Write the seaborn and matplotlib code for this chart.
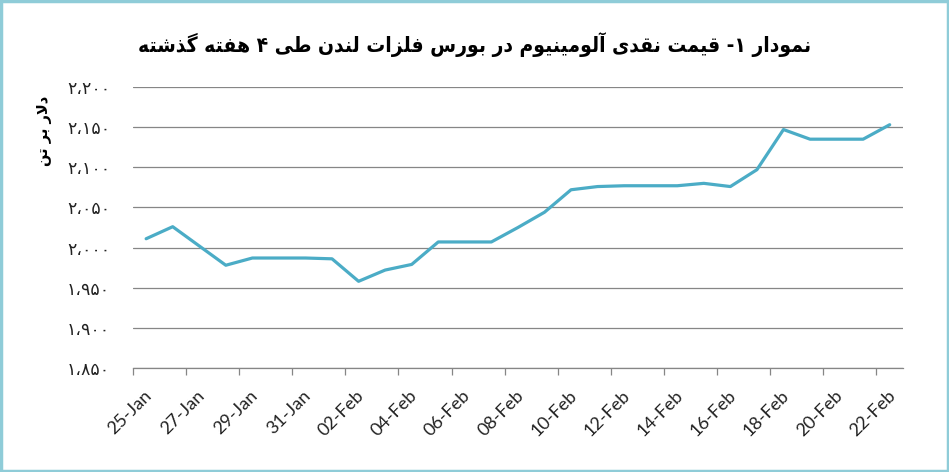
import pandas as pd
import matplotlib
matplotlib.use("Agg")
import matplotlib.pyplot as plt
import matplotlib.dates as mdates
import matplotlib.transforms as mtransforms
import seaborn as sns

# LME cash aluminium price (USD per tonne), weekends carry Friday's price
dates = ["2021-01-25", "2021-01-26", "2021-01-27", "2021-01-28", "2021-01-29",
         "2021-01-30", "2021-01-31", "2021-02-01", "2021-02-02", "2021-02-03",
         "2021-02-04", "2021-02-05", "2021-02-06", "2021-02-07", "2021-02-08",
         "2021-02-09", "2021-02-10", "2021-02-11", "2021-02-12", "2021-02-13",
         "2021-02-14", "2021-02-15", "2021-02-16", "2021-02-17", "2021-02-18",
         "2021-02-19", "2021-02-20", "2021-02-21", "2021-02-22"]
prices = [2011, 2026, 2002, 1978, 1987,
          1987, 1987, 1986, 1958, 1972,
          1979, 2007, 2007, 2007, 2025,
          2044, 2072, 2076, 2077, 2077,
          2077, 2080, 2076, 2097, 2147,
          2135, 2135, 2135, 2153]
y_ticks = [1850, 1900, 1950, 2000, 2050, 2100, 2150, 2200]

title_text = "نمودار ۱- قیمت نقدی آلومینیوم در بورس فلزات لندن طی ۴ هفته گذشته"
ylabel_text = "دلار بر تن"

LINE_COLOR = "#4BACC6"
GRID_COLOR = "#868686"
FRAME_COLOR = "#8FCCD8"

# matplotlib does no arabic shaping, so pick presentation forms by hand
# (isolated, final, initial, medial)
FORMS = {
    "ا": (0xFE8D, 0xFE8E, None, None),
    "آ": (0xFE81, 0xFE82, None, None),
    "ب": (0xFE8F, 0xFE90, 0xFE91, 0xFE92),
    "ت": (0xFE95, 0xFE96, 0xFE97, 0xFE98),
    "د": (0xFEA9, 0xFEAA, None, None),
    "ذ": (0xFEAB, 0xFEAC, None, None),
    "ر": (0xFEAD, 0xFEAE, None, None),
    "ز": (0xFEAF, 0xFEB0, None, None),
    "س": (0xFEB1, 0xFEB2, 0xFEB3, 0xFEB4),
    "ش": (0xFEB5, 0xFEB6, 0xFEB7, 0xFEB8),
    "ط": (0xFEC1, 0xFEC2, 0xFEC3, 0xFEC4),
    "ف": (0xFED1, 0xFED2, 0xFED3, 0xFED4),
    "ق": (0xFED5, 0xFED6, 0xFED7, 0xFED8),
    "ل": (0xFEDD, 0xFEDE, 0xFEDF, 0xFEE0),
    "م": (0xFEE1, 0xFEE2, 0xFEE3, 0xFEE4),
    "ن": (0xFEE5, 0xFEE6, 0xFEE7, 0xFEE8),
    "ه": (0xFEE9, 0xFEEA, 0xFEEB, 0xFEEC),
    "و": (0xFEED, 0xFEEE, None, None),
    "ی": (0xFEEF, 0xFEF0, 0xFEF3, 0xFEF4),
    "گ": (0xFB92, 0xFB93, 0xFB94, 0xFB95),
    "\uFEFB": (0xFEFB, 0xFEFC, None, None),  # lam-alef
}


def shape_rtl(text):
    text = text.replace("لا", "\uFEFB")
    out = []
    for i, ch in enumerate(text):
        if ch not in FORMS:
            out.append(ch)
            continue
        prev = text[i - 1] if i > 0 else ""
        nxt = text[i + 1] if i < len(text) - 1 else ""
        join_prev = prev in FORMS and FORMS[prev][2] is not None
        join_next = nxt in FORMS and FORMS[ch][2] is not None
        if join_prev and join_next:
            k = 3
        elif join_prev:
            k = 1
        elif join_next:
            k = 2
        else:
            k = 0
        out.append(chr(FORMS[ch][k]))
    return "".join(reversed(out))


def persian_number(v):
    return f"{v:,}".translate(str.maketrans("0123456789,", "۰۱۲۳۴۵۶۷۸۹،"))


df = pd.DataFrame({"date": pd.to_datetime(dates), "price": prices})

sns.set_theme(style="white")
fig = plt.figure(figsize=(9.49, 4.72), dpi=100)
ax = fig.add_axes([0.140, 0.2203, 0.8115, 0.5954])

sns.lineplot(data=df, x="date", y="price", ax=ax, color=LINE_COLOR,
             linewidth=2.3, zorder=3)

ax.set_ylim(1850, 2200)
ax.set_yticks(y_ticks)
ax.set_yticklabels([persian_number(v) for v in y_ticks], family="DejaVu Sans",
                   fontsize=12.5, color="#222222")
ax.tick_params(axis="y", length=0, pad=16.5)
ax.yaxis.grid(True, color=GRID_COLOR, linewidth=0.9)

start = pd.Timestamp(dates[0])
end = pd.Timestamp(dates[-1])
half = pd.Timedelta(hours=12)
ax.set_xlim(start - half, end + half)
label_days = pd.date_range(start, end, freq="2D")
ax.set_xticks(label_days)
ax.set_xticks(label_days - half, minor=True)
ax.xaxis.set_major_formatter(mdates.DateFormatter("%d-%b"))
ax.tick_params(axis="x", which="major", length=0, pad=18)
ax.tick_params(axis="x", which="minor", bottom=True, length=5, width=0.9,
               color=GRID_COLOR, direction="out")
shift = mtransforms.ScaledTranslation(3 / 100, 0, fig.dpi_scale_trans)
for lbl in ax.get_xticklabels():
    lbl.set_rotation(45)
    lbl.set_ha("right")
    lbl.set_va("center")
    lbl.set_rotation_mode("anchor")
    lbl.set_family("Lato")
    lbl.set_fontsize(13)
    lbl.set_color("#222222")
    lbl.set_transform(lbl.get_transform() + shift)

for side in ["left", "right", "top"]:
    ax.spines[side].set_visible(False)
ax.spines["bottom"].set_color(GRID_COLOR)
ax.spines["bottom"].set_linewidth(0.9)
ax.set_xlabel("")
ax.set_ylabel("")

fig.text(0.5, 0.905, shape_rtl(title_text), ha="center", va="center",
         family="DejaVu Sans", fontweight="bold", fontstretch="condensed",
         fontsize=15, color="black")
fig.text(0.047, 0.723, shape_rtl(ylabel_text), ha="center", va="center",
         rotation=90, family="DejaVu Sans", fontweight="bold", fontsize=10.5,
         color="black")

# light blue frame around the whole picture
fig.patches.append(plt.Rectangle((0.0015, 0.003), 0.997, 0.994,
                                 transform=fig.transFigure, fill=False,
                                 edgecolor=FRAME_COLOR, linewidth=2.5))

fig.savefig("out.png", dpi=100, facecolor="white")
